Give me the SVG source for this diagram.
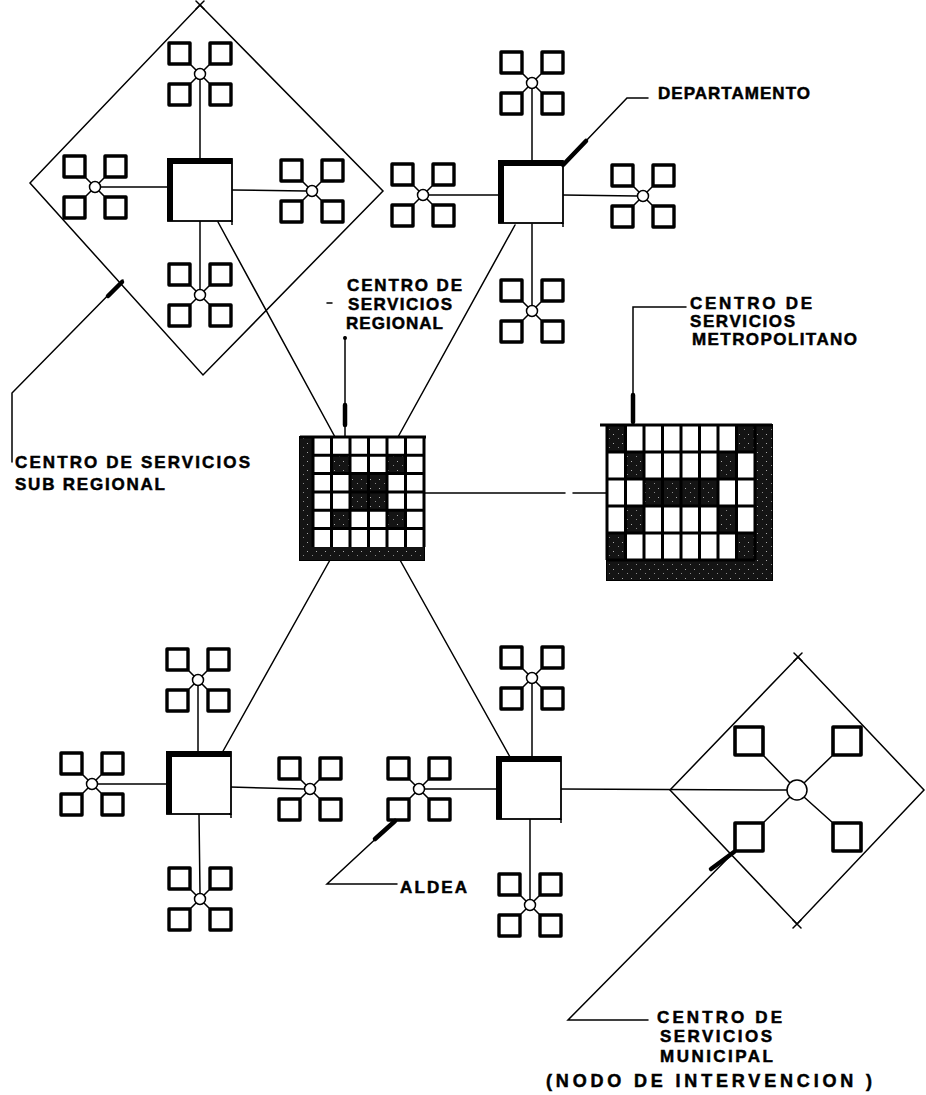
<svg xmlns="http://www.w3.org/2000/svg" width="926" height="1095" viewBox="0 0 926 1095">
<style>
.ln{stroke:#000;stroke-width:1.5;fill:none;stroke-linecap:round}
.thk{stroke:#000;stroke-width:4.5;fill:none;stroke-linecap:round}
.sq{fill:#fff;stroke:#000;stroke-width:3.4;stroke-linejoin:round}
.msq{fill:#fff;stroke:#000;stroke-width:3.6;stroke-linejoin:round}
.hub{fill:#fff;stroke:#000;stroke-width:1.5}
.dia{fill:none;stroke:#000;stroke-width:1.5}
.drk{fill:url(#stip)}
.grid{stroke:#000;stroke-width:3;fill:none}
.lbl{font-family:"Liberation Sans",Arial,sans-serif;font-weight:bold;font-size:17px;fill:#000;stroke:#000;stroke-width:0.5}
</style>
<defs>
<pattern id="stip" width="9" height="9" patternUnits="userSpaceOnUse">
<rect width="9" height="9" fill="#141414"/>
<rect x="1" y="2" width="1" height="1" fill="#aaa"/>
<rect x="6" y="6" width="1" height="1" fill="#888"/>
</pattern>
<g id="aldea">
<path class="ln" d="M-4,-4 L-10,-10 M4,-4 L10,-10 M-4,4 L-10,10 M4,4 L10,10"/>
<rect class="sq" x="-31" y="-31" width="21" height="21"/>
<rect class="sq" x="10" y="-31" width="21" height="21"/>
<rect class="sq" x="-31" y="10" width="21" height="21"/>
<rect class="sq" x="10" y="10" width="21" height="21"/>
<circle class="hub" r="5.5"/>
</g>
<g id="dept">
<rect x="-32" y="-31" width="64" height="62" fill="#fff" stroke="#000" stroke-width="1.8"/>
<path d="M-30,31 V-29 H32" fill="none" stroke="#000" stroke-width="6"/>
<path d="M32,31 v4 M32,31 h-2" fill="none" stroke="#000" stroke-width="1.5"/>
</g>
</defs>
<rect width="926" height="1095" fill="#fff"/>

<g id="connectors">
<line class="ln" x1="200" y1="80" x2="200" y2="159"/>
<line class="ln" x1="101" y1="187" x2="168" y2="187"/>
<line class="ln" x1="232" y1="190" x2="306" y2="191"/>
<line class="ln" x1="200" y1="221" x2="200" y2="289"/>
<line class="ln" x1="532" y1="89" x2="532" y2="161"/>
<line class="ln" x1="429" y1="195" x2="500" y2="195"/>
<line class="ln" x1="563" y1="195" x2="637" y2="196"/>
<line class="ln" x1="532" y1="224" x2="532" y2="305"/>
<line class="ln" x1="198" y1="686" x2="198" y2="752"/>
<line class="ln" x1="98" y1="784" x2="168" y2="784"/>
<line class="ln" x1="230" y1="787" x2="304" y2="789"/>
<line class="ln" x1="199" y1="814" x2="200" y2="893"/>
<line class="ln" x1="532" y1="684" x2="532" y2="757"/>
<line class="ln" x1="425" y1="789" x2="498" y2="789"/>
<line class="ln" x1="530" y1="819" x2="530" y2="899"/>
<line class="ln" x1="218" y1="222" x2="335" y2="437"/>
<line class="ln" x1="515" y1="225" x2="398" y2="437"/>
<line class="ln" x1="222" y1="753" x2="330" y2="560"/>
<line class="ln" x1="510" y1="757" x2="400" y2="560"/>
<line class="ln" x1="424" y1="493" x2="565" y2="493"/>
<line class="ln" x1="573" y1="493" x2="607" y2="493"/>
<line class="ln" x1="560" y1="789" x2="787" y2="790"/>
</g>

<g id="subregional-area">
<polygon class="dia" points="200,5 383,191 203,375 30,183"/>
<path class="ln" d="M196,1 L204,9 M204,1 L196,9"/>
</g>

<g id="municipal-area">
<polygon class="dia" points="798,657 924,790 797,924 670,790"/>
<path class="ln" d="M794,653 L802,661 M802,653 L794,661 M793,920 L801,928 M801,920 L793,928"/>
</g>

<g id="dept-top-left"><use href="#dept" x="200" y="190"/></g>
<g id="dept-top-right"><use href="#dept" x="531" y="192"/></g>
<g id="dept-bottom-left"><use href="#dept" x="199" y="783"/></g>
<g id="dept-bottom-middle"><use href="#dept" x="529" y="788"/></g>

<g id="aldea-tl-top"><use href="#aldea" x="200" y="74"/></g>
<g id="aldea-tl-left"><use href="#aldea" x="95" y="187"/></g>
<g id="aldea-tl-right"><use href="#aldea" x="312" y="191"/></g>
<g id="aldea-tl-bottom"><use href="#aldea" x="200" y="295"/></g>
<g id="aldea-tr-top"><use href="#aldea" x="532" y="83"/></g>
<g id="aldea-tr-left"><use href="#aldea" x="423" y="195"/></g>
<g id="aldea-tr-right"><use href="#aldea" x="643" y="196"/></g>
<g id="aldea-tr-bottom"><use href="#aldea" x="532" y="311"/></g>
<g id="aldea-bl-top"><use href="#aldea" x="198" y="680"/></g>
<g id="aldea-bl-left"><use href="#aldea" x="92" y="784"/></g>
<g id="aldea-bl-right"><use href="#aldea" x="310" y="789"/></g>
<g id="aldea-bl-bottom"><use href="#aldea" x="200" y="899"/></g>
<g id="aldea-bm-top"><use href="#aldea" x="532" y="678"/></g>
<g id="aldea-bm-left"><use href="#aldea" x="419" y="789"/></g>
<g id="aldea-bm-bottom"><use href="#aldea" x="530" y="905"/></g>

<g id="municipal-node">
<path class="ln" d="M790,783 L763,755 M804,783 L833,755 M790,797 L763,823 M804,797 L833,823"/>
<rect class="msq" x="735" y="727" width="28" height="28"/>
<rect class="msq" x="833" y="727" width="28" height="28"/>
<rect class="msq" x="735" y="823" width="28" height="28"/>
<rect class="msq" x="833" y="823" width="28" height="28"/>
<circle class="hub" cx="797" cy="790" r="10"/>
</g>

<g id="regional-centre">
<rect x="300" y="437" width="124" height="123" fill="#fff" stroke="#000" stroke-width="2"/>
<rect class="drk" x="300" y="437" width="13" height="123"/>
<rect class="drk" x="300" y="547" width="124" height="13"/>
<rect class="drk" x="331.5" y="455.3" width="18.5" height="18.3"/>
<rect class="drk" x="387" y="455.3" width="18.5" height="18.3"/>
<rect class="drk" x="350" y="473.6" width="37" height="36.7"/>
<rect class="drk" x="331.5" y="510.3" width="18.5" height="18.3"/>
<rect class="drk" x="387" y="510.3" width="18.5" height="18.3"/>
<path d="M368.5,478 V506 M354,492 H383" stroke="#fff" stroke-width="2" opacity="0.6"/>
<path class="grid" d="M313,437 V547 M331.5,437 V547 M350,437 V547 M368.5,437 V547 M387,437 V547 M405.5,437 V547 M424,437 V547 M313,455.3 H424 M313,473.6 H424 M313,492 H424 M313,510.3 H424 M313,528.6 H424 M300,437 H426"/>
</g>

<g id="metropolitan-centre">
<rect x="607" y="425" width="165" height="155" fill="#fff" stroke="#000" stroke-width="2"/>
<rect class="drk" x="755" y="425" width="17" height="155"/>
<rect class="drk" x="607" y="560" width="165" height="20"/>
<rect class="drk" x="607" y="425" width="18.5" height="27"/>
<rect class="drk" x="736.5" y="425" width="18.5" height="27"/>
<rect class="drk" x="625.5" y="452" width="18.5" height="27"/>
<rect class="drk" x="718" y="452" width="18.5" height="27"/>
<rect class="drk" x="644" y="479" width="74" height="27"/>
<rect class="drk" x="625.5" y="506" width="18.5" height="27"/>
<rect class="drk" x="718" y="506" width="18.5" height="27"/>
<rect class="drk" x="607" y="533" width="18.5" height="27"/>
<rect class="drk" x="736.5" y="533" width="18.5" height="27"/>
<path class="grid" d="M607,425 V560 M625.5,425 V560 M644,425 V560 M662.5,425 V560 M681,425 V560 M699.5,425 V560 M718,425 V560 M736.5,425 V560 M755,425 V560 M607,452 H755 M607,479 H755 M607,506 H755 M607,533 H755 M607,560 H755 M600,425 H772"/>
</g>

<g id="labels">
<path class="ln" d="M563,165 L627,98 H648"/>
<path class="thk" d="M563,165 L586,141"/>
<text class="lbl" x="658" y="99" textLength="152" lengthAdjust="spacing">DEPARTAMENTO</text>

<path class="ln" d="M345,337 V437"/>
<path class="thk" d="M345,405 V425"/>
<circle cx="345" cy="338" r="2" fill="#000"/>
<path class="ln" d="M327,303 H332"/>
<text class="lbl" x="347" y="291" textLength="115" lengthAdjust="spacing">CENTRO DE</text>
<text class="lbl" x="348" y="310" textLength="104" lengthAdjust="spacing">SERVICIOS</text>
<text class="lbl" x="346" y="329" textLength="97" lengthAdjust="spacing">REGIONAL</text>

<path class="ln" d="M686,307 H633 V425"/>
<path class="thk" d="M633,395 V422"/>
<text class="lbl" x="690" y="309" textLength="122" lengthAdjust="spacing">CENTRO DE</text>
<text class="lbl" x="690" y="327" textLength="105" lengthAdjust="spacing">SERVICIOS</text>
<text class="lbl" x="692" y="345" textLength="165" lengthAdjust="spacing">METROPOLITANO</text>

<path class="ln" d="M123,280 L12,393 V462"/>
<path class="thk" d="M122,282 L108,296"/>
<text class="lbl" x="15" y="468" textLength="235" lengthAdjust="spacing">CENTRO DE SERVICIOS</text>
<text class="lbl" x="15" y="490" textLength="150" lengthAdjust="spacing">SUB REGIONAL</text>

<path class="ln" d="M396,820 L327,884 H397"/>
<path class="thk" d="M395,821 L375,839"/>
<text class="lbl" x="400" y="893" textLength="67" lengthAdjust="spacing">ALDEA</text>

<path class="ln" d="M735,851 L568,1020 H648"/>
<path class="thk" d="M734,852 L711,869"/>
<text class="lbl" x="657" y="1023" textLength="125" lengthAdjust="spacing">CENTRO DE</text>
<text class="lbl" x="660" y="1042" textLength="112" lengthAdjust="spacing">SERVICIOS</text>
<text class="lbl" x="660" y="1062" textLength="113" lengthAdjust="spacing">MUNICIPAL</text>
<text class="lbl" x="546" y="1087" textLength="326" lengthAdjust="spacing" style="font-size:18px">(NODO DE INTERVENCION )</text>
</g>
</svg>
